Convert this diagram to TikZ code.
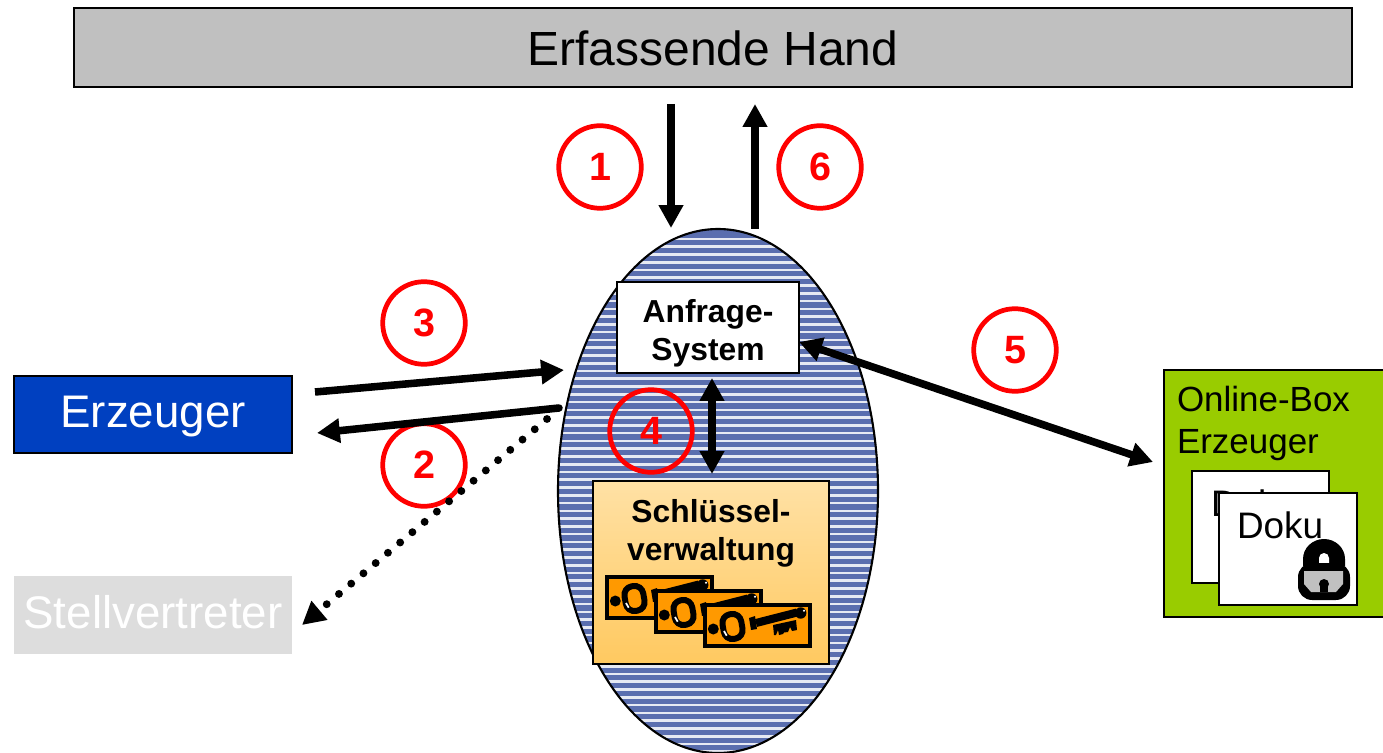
\documentclass[tikz,border=0pt]{standalone}
\usepackage{fontspec}
\setmainfont{Liberation Sans}
\usetikzlibrary{shapes.geometric,arrows.meta}
\definecolor{handgray}{RGB}{192,192,192}
\definecolor{erzeugerblue}{RGB}{0,64,192}
\definecolor{vertretergray}{RGB}{221,221,221}
\definecolor{ovalblue}{RGB}{90,110,175}
\definecolor{boxgreen}{RGB}{153,204,0}
\definecolor{keyorange}{RGB}{255,153,0}
\definecolor{markred}{RGB}{255,0,0}
\definecolor{goldtop}{RGB}{255,225,165}
\definecolor{goldbottom}{RGB}{255,201,96}

\begin{document}
\begin{tikzpicture}[
    x=0.02cm,y=-0.02cm,
    every node/.style={outer sep=0pt},
    bigbox/.style={draw=black,line width=0.8pt,anchor=north west,inner sep=0pt,text height=18.6pt,text depth=3.8pt,font=\fontsize{26}{26}\selectfont},
    whitebox/.style={draw=black,line width=1pt,fill=white,anchor=north west,inner sep=0pt},
    boldlabel/.style={font=\fontsize{18.1}{21.6}\selectfont\bfseries,align=center,inner sep=0pt},
    heavy/.style={line width=4.3pt,-{Triangle[length=13pt,width=13.3pt]}},
    heavyboth/.style={line width=4.3pt,{Triangle[length=13pt,width=13.3pt]}-{Triangle[length=13pt,width=13.3pt]}},
    numcircle/.style={circle,draw=markred,line width=2.7pt,minimum size=47pt,inner sep=0pt,text=markred,font=\fontsize{22.5}{22.5}\selectfont\bfseries},
    keycard/.pic={
        \draw[line width=2.3pt,fill=keyorange] (0,0) rectangle (105,41);
        \fill (8.3,24) circle (5.5);
        \draw[line width=3.4pt,rotate around={10:(27.5,21.5)},rounded corners=5pt] (18,9) rectangle (37,34);
        \draw[white,line width=1pt] (19,26) -- (21.7,30.7);
        \fill (44,13) -- (50,11) -- (52,24) -- (46,25) -- cycle;
        \draw[line width=4.6pt] (51,18) -- (92,7.5);
        \fill (95.7,8) circle (5.7);
        \fill[white] (99,5.7) circle (1.2);
        \fill (68,20) -- (91,15) -- (92,25) -- (87,26) -- (85,22) -- (83,27) -- (79,27.5) -- (78,29) -- (74,30) -- (73,25) -- (71,30) -- (69,30) -- cycle;
    },
]
\useasboundingbox (0,0) rectangle (1383,753);

% Top bar
\node[bigbox,text height=21pt,text depth=0pt,font=\fontsize{27.3}{27.3}\selectfont,fill=handgray,minimum width=1278*0.02cm,minimum height=79*0.02cm] (hand) at (74,8) {Erfassende Hand};

% Left boxes
\node[bigbox,draw=black,fill=erzeugerblue,text=white,minimum width=278*0.02cm,minimum height=77*0.02cm] (erzeuger) at (14,376) {Erzeuger};
\node[bigbox,draw=none,fill=vertretergray,text=white,minimum width=278*0.02cm,minimum height=78*0.02cm] (vertreter) at (14,576) {Stellvertreter};

% Oval with stripes
\node[ellipse,fill=ovalblue,minimum width=320*0.02cm,minimum height=524*0.02cm,inner sep=0pt] (oval) at (718,491) {};
\begin{scope}
\clip (718,491) ellipse (160 and 262);
\foreach \k in {0,...,66}
    \draw[white!85!ovalblue,line width=1.5pt] (550,{238.9+7.77*\k}) -- (890,{238.9+7.77*\k});
\end{scope}
\draw[line width=1.2pt] (718,491) ellipse (160 and 262);

% Inner boxes
\node[whitebox,minimum width=182*0.02cm,minimum height=91*0.02cm] (anfrage) at (617,282) {};
\node[boldlabel] (anfragetext) at (708,333) {Anfrage-\\System};
\node[draw=black,line width=1pt,anchor=north west,top color=goldtop,bottom color=goldbottom,minimum width=236*0.02cm,minimum height=183*0.02cm,inner sep=0pt] (schluessel) at (593,481) {};
\node[boldlabel] (schluesseltext) at (711,533.5) {Schlüssel-\\verwaltung};

% Keys
\pic at (607,577) {keycard};
\pic at (656,591) {keycard};
\pic at (705,605) {keycard};

% Online box
\node[draw=black,line width=0.8pt,fill=boxgreen,anchor=north west,minimum width=225*0.02cm,minimum height=247*0.02cm,inner sep=0pt] (onlinebox) at (1164,370) {};
\node[anchor=north west,align=left,inner sep=0pt,font=\fontsize{19.9}{24}\selectfont] (onlinetext) at (1177,386) {Online-Box\\Erzeuger};
\node[whitebox,minimum width=137*0.02cm,minimum height=112*0.02cm] (dokuback) at (1192,471) {};
\node[anchor=base west,inner sep=0pt,font=\fontsize{21}{21}\selectfont] (dokubacktext) at (1211,516) {Doku};
\node[whitebox,minimum width=138*0.02cm,minimum height=112*0.02cm] (dokufront) at (1219,493) {};
\node[anchor=base west,inner sep=0pt,font=\fontsize{21}{21}\selectfont] (dokutext) at (1237,538) {Doku};

% Lock
\fill (1303,566) -- (1303,559) arc (180:360:21 and 20) -- (1345,566) -- cycle;
\fill[white] (1319,563) -- (1319,558) arc (180:360:5 and 5) -- (1329,563) -- cycle;
\fill[rounded corners=8pt] (1298,563) rectangle (1350,600);
\fill[handgray] (1304,571) -- (1343,571) -- (1343,584) -- (1336,592) -- (1311,592) -- (1304,584) -- cycle;
\fill (1324,584) circle (5);
\fill (1320,584) rectangle (1328,592);

% Free ends of the arrows
\coordinate (a1s) at (671,104);
\coordinate (a1e) at (671,228);
\coordinate (a6s) at (755,229);
\coordinate (a6e) at (755,104);
\coordinate (a3s) at (315,392);
\coordinate (a3e) at (564,370);
\coordinate (a2s) at (559,408);
\coordinate (a2e) at (317,433);
\coordinate (ds) at (547,419);
\coordinate (de) at (302,625);
\coordinate (a4s) at (712,378);
\coordinate (a4e) at (712,474);
\coordinate (a5s) at (799,342);
\coordinate (a5e) at (1153,462);

% Numbers
\node[numcircle] (n1) at (600,167) {\raisebox{-2pt}{1}};
\node[numcircle] (n6) at (820,167) {\raisebox{-2pt}{6}};
\node[numcircle] (n3) at (424,323) {\raisebox{-2.5pt}{3}};
\node[numcircle] (n2) at (424,465) {\raisebox{-2.5pt}{2}};
\node[numcircle] (n4) at (651,431) {\raisebox{-2.5pt}{4}};
\node[numcircle] (n5) at (1015,350) {\raisebox{-2.5pt}{5}};

% Connections
\draw[heavy] (a1s) -- (a1e);
\draw[heavy] (a6s) -- (a6e);
\draw[heavy] (a3s) -- (a3e);
\draw[heavy,line cap=round] (a2s) -- (a2e);
\draw[line width=4.5pt,dash pattern=on 0pt off 9.1pt,line cap=round,-{Triangle[length=13pt,width=13.3pt]}] (ds) -- (de);
\draw[heavyboth] (a4s) -- (a4e);
\draw[heavyboth] (a5s) -- (a5e);

\end{tikzpicture}
\end{document}
